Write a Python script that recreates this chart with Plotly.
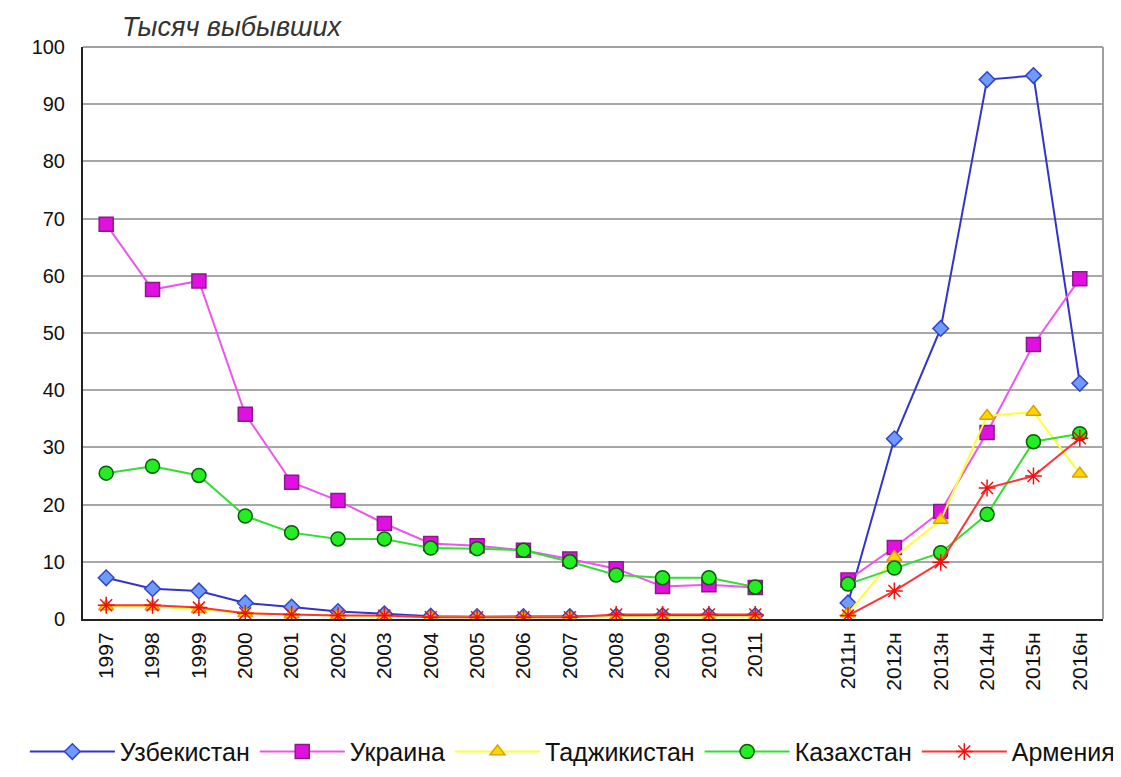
import plotly.graph_objects as go

categories = ["1997", "1998", "1999", "2000", "2001", "2002", "2003", "2004", "2005",
              "2006", "2007", "2008", "2009", "2010", "2011", " ",
              "2011н", "2012н", "2013н", "2014н", "2015н", "2016н"]

uzbekistan = [7.2, 5.3, 4.9, 2.8, 2.1, 1.3, 0.9, 0.5, 0.4, 0.4, 0.4, 0.5, 0.6, 0.6, 0.6, None,
              2.8, 31.5, 50.8, 94.3, 95.0, 41.2]
ukraine = [69.0, 57.6, 59.1, 35.8, 23.9, 20.7, 16.7, 13.2, 12.8, 12.0, 10.5, 8.8, 5.7, 6.0, 5.5, None,
           6.8, 12.5, 18.8, 32.6, 48.0, 59.5]
tajikistan = [2.2, 2.2, 1.7, 1.0, 0.8, 0.6, 0.5, 0.3, 0.3, 0.3, 0.3, 0.3, 0.3, 0.3, 0.3, None,
              1.0, 10.8, 17.3, 35.5, 36.2, 25.4]
kazakhstan = [25.5, 26.7, 25.1, 18.0, 15.1, 14.0, 14.0, 12.4, 12.3, 12.0, 10.0, 7.7, 7.2, 7.2, 5.6, None,
              6.1, 8.9, 11.6, 18.3, 31.0, 32.4]
armenia = [2.4, 2.4, 2.0, 1.0, 0.8, 0.6, 0.6, 0.3, 0.3, 0.3, 0.3, 0.8, 0.8, 0.8, 0.8, None,
           0.6, 4.9, 9.9, 22.9, 25.0, 31.6]

series = [
    ("Узбекистан", uzbekistan, "#3333CC", "diamond", "#6F9BFF", "#3344CC", 12),
    ("Украина", ukraine, "#EE55EE", "square", "#E010E0", "#8A1A8A", 14),
    ("Таджикистан", tajikistan, "#FFFF33", "triangle-up", "#FFD700", "#E0A000", 13),
    ("Казахстан", kazakhstan, "#33DD33", "circle", "#22EE22", "#0A5A0A", 14),
    ("Армения", armenia, "#FF3333", "asterisk-open", "#EE1111", "#EE1111", 14),
]

fig = go.Figure()
for name, vals, lc, sym, mfill, medge, msize in series:
    fig.add_trace(go.Scatter(
        x=categories, y=vals, name=name, mode="lines+markers",
        line=dict(color=lc, width=2),
        marker=dict(symbol=sym, size=msize, color=mfill,
                    line=dict(color=medge, width=1.5)),
        connectgaps=False,
    ))

font_family = "Liberation Sans, Arial, sans-serif"

fig.update_layout(
    width=1121, height=777,
    margin=dict(l=75, r=26, t=39, b=165),
    plot_bgcolor="white", paper_bgcolor="white",
    font=dict(family=font_family, size=20, color="#111111"),
    showlegend=True,
    legend=dict(orientation="h", x=-0.057, y=-0.23, xanchor="left", yanchor="middle",
                font=dict(size=25, color="#111111"), itemwidth=85,
                traceorder="normal", bgcolor="rgba(0,0,0,0)"),
    xaxis=dict(type="category", categoryorder="array", categoryarray=categories,
               range=[-0.5, 21.5],
               tickangle=-90, showgrid=False, showline=True, linecolor="#222222",
               linewidth=2, ticks="", tickfont=dict(size=21), zeroline=False,
               ticklabelstandoff=3),
    yaxis=dict(range=[0, 100], dtick=10, showgrid=True, gridcolor="#A8A8A8", gridwidth=1.5,
               showline=True, linecolor="#222222", linewidth=2, ticks="",
               tickfont=dict(size=20), zeroline=False, ticklabelstandoff=12),
    annotations=[dict(text="<i>Тысяч выбывших</i>", xref="paper", yref="paper",
                      x=0.036, y=1.0, xanchor="left", yanchor="bottom", yshift=3,
                      showarrow=False, font=dict(size=27, color="#333333"))],
    shapes=[
        dict(type="line", xref="paper", yref="paper", x0=0, x1=1, y0=1, y1=1,
             line=dict(color="#A0A0A0", width=2)),
        dict(type="line", xref="paper", yref="paper", x0=1, x1=1, y0=0, y1=1,
             line=dict(color="#A0A0A0", width=2)),
    ],
)

fig.write_html("out.html")
